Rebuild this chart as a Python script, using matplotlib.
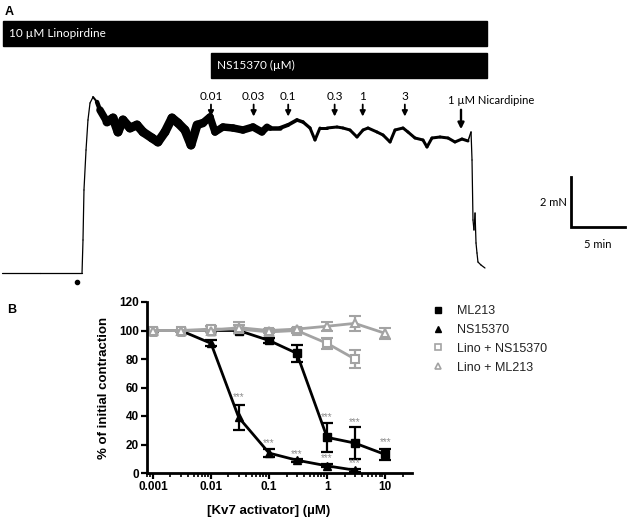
import numpy as np
import matplotlib
matplotlib.use("Agg")
import matplotlib.pyplot as plt
from matplotlib.patches import Rectangle
from matplotlib.lines import Line2D
from matplotlib.collections import LineCollection

# Panel A: force trace (time in min, force in mN, noise half-width in mN)
traceT = [0, 3.52, 7.41, 7.5, 7.59, 7.78, 7.96, 8.15, 8.43, 8.8, 9.07, 9.72, 10.28, 10.74,
          11.2, 11.85, 12.5, 13.06, 13.89, 14.44, 15.09, 15.74, 16.3, 16.94, 17.5, 18.06,
          18.61, 19.26, 19.72, 20.46, 21.39, 22.31, 23.24, 24.07, 24.54, 24.81, 25.74,
          26.48, 27.31, 27.87, 28.52, 28.98, 29.44, 30.09, 31.02, 31.57, 32.22, 32.87,
          33.43, 33.89, 34.72, 35.28, 35.93, 36.39, 37.13, 37.59, 38.24, 38.98, 39.35,
          39.81, 40.56, 41.3, 41.94, 42.59, 43.15, 43.43, 43.52, 43.61, 43.7, 43.8, 43.89,
          43.98, 44.07, 44.35, 44.72]
traceF = [0, 0, 0, 1.32, 3.32, 4.92, 6.12, 6.8, 7.04, 6.84, 6.52, 6.04, 6.2, 5.64,
          6.12, 5.8, 5.92, 5.64, 5.4, 5.24, 5.64, 6.2, 6.0, 5.72, 5.12, 5.92,
          6.0, 6.24, 5.64, 5.84, 5.8, 5.72, 5.84, 5.64, 5.84, 5.8, 5.8,
          5.92, 6.12, 6.04, 5.8, 5.32, 5.8, 5.8, 5.84, 5.8, 5.72, 5.44,
          5.72, 5.8, 5.64, 5.52, 5.24, 5.72, 5.8, 5.64, 5.4, 5.32, 5.04,
          5.4, 5.44, 5.4, 5.24, 5.36, 5.28, 5.64, 4.52, 2.12, 1.72, 2.4, 1.2,
          0.8, 0.44, 0.32, 0.2]
traceN = [0.02, 0.02, 0.02, 0, 0, 0, 0, 0, 0.02, 0.06, 0.12, 0.18, 0.18, 0.18,
          0.18, 0.18, 0.18, 0.18, 0.18, 0.18, 0.18, 0.18, 0.18, 0.18, 0.18, 0.18,
          0.16, 0.15, 0.15, 0.15, 0.15, 0.15, 0.15, 0.15, 0.13, 0.1, 0.08,
          0.08, 0.07, 0.07, 0.06, 0.06, 0.06, 0.06, 0.06, 0.06, 0.06, 0.06,
          0.06, 0.06, 0.06, 0.06, 0.06, 0.06, 0.06, 0.06, 0.06, 0.06, 0.06,
          0.06, 0.06, 0.06, 0.06, 0.06, 0.06, 0, 0, 0, 0, 0, 0,
          0, 0, 0, 0]

doseLabels = ["0.01", "0.03", "0.1", "0.3", "1", "3"]
doseT = [19.35, 23.3, 26.5, 30.8, 33.4, 37.3]
nicT = 42.5

# Panel B: concentration-response
conc = [0.001, 0.003, 0.01, 0.03, 0.1, 0.3, 1, 3, 10]
ml213 = [100, 100, 100, 100, 93, 84, 25, 21, 13]
ml213Err = [0, 0, 1, 2, 1.5, 6, 10, 11, 4]
ns15370 = [100, 100, 91, 39, 14, 9, 5, 2]
ns15370Err = [0, 0, 2, 9, 3, 1, 1, 1]
linoNs = [100, 100, 101, 101, 99, 100, 91, 80]
linoNsErr = [0, 0, 2, 3, 1, 1.5, 4, 6]
linoMl = [100, 100, 100, 102, 100, 101, 103, 105, 98]
linoMlErr = [0, 0, 1, 4, 1, 1, 3, 5, 4]
starX = [0.03, 0.1, 0.3, 1, 3, 1, 3, 10]
starY = [53, 21, 13, 10.5, 7, 39, 36, 22]

W, H = 629, 518
fx = lambda x: x / W
fy = lambda y: 1 - y / H
fontA = ["Lato", "DejaVu Sans"]
fontB = ["Liberation Sans", "DejaVu Sans"]
gray = "#a3a3a3"

fig = plt.figure(figsize=(W / 100, H / 100), dpi=100)

# ---- Panel A ----
axA = fig.add_axes([0, 0, 1, 1])
axA.set_xlim(-2 / 10.8, 627 / 10.8)
axA.set_ylim((273 - 518) / 25, 273 / 25)
axA.axis("off")

fig.text(fx(5), fy(12), "A", fontsize=9, fontweight="bold", family=fontB, va="center")
for x0, y0, x1, y1, label in [(3, 21, 487, 46, "10 \u00b5M Linopirdine"),
                               (211, 53, 487, 78, "NS15370 (\u00b5M)")]:
    fig.patches.append(Rectangle((fx(x0), fy(y1)), fx(x1) - fx(x0), fy(y0) - fy(y1),
                                 transform=fig.transFigure, color="black"))
    fig.text(fx(x0 + 6), (fy(y0) + fy(y1)) / 2, label, color="white", fontsize=8.5,
             family=fontA, va="center")

# trace drawn with a width that follows the noise band
t = np.array(traceT)
f = np.array(traceF)
n = np.array(traceN)
pts = np.column_stack([t, f]).reshape(-1, 1, 2)
segs = np.concatenate([pts[:-1], pts[1:]], axis=1)
widths = np.maximum(0.9, 2 * 25 * 0.72 * (n[:-1] + n[1:]) / 2)
axA.add_collection(LineCollection(segs, linewidths=widths, colors="black",
                                  capstyle="round", joinstyle="round"))
axA.plot([6.94], [-0.36], "o", color="black", ms=3)

for lab, x in zip(doseLabels, doseT):
    axA.annotate("", xy=(x, 6.15), xytext=(x, 6.85),
                 arrowprops=dict(arrowstyle="-|>", color="black", lw=1.3, mutation_scale=8))
    axA.text(x, 6.85, lab, ha="center", va="bottom", fontsize=8.5, family=fontA)
axA.annotate("", xy=(nicT, 5.64), xytext=(nicT, 6.64),
             arrowprops=dict(arrowstyle="-|>", color="black", lw=1.7, mutation_scale=9))
axA.text(41.3, 6.92, "1 \u00b5M Nicardipine", ha="left", va="center", fontsize=8, family=fontA)

# scale bar
axA.plot([52.7, 52.7, 57.7], [3.84, 1.84, 1.84], color="black", lw=2, solid_joinstyle="miter")
axA.text(52.3, 2.8, "2 mN", ha="right", va="center", fontsize=8, family=fontA)
axA.text(55.2, 1.16, "5 min", ha="center", va="center", fontsize=8, family=fontA)

# ---- Panel B ----
fig.text(fx(7), fy(310), "B", fontsize=9, fontweight="bold", family=fontB, va="center")
axB = fig.add_axes([fx(147), fy(473), fx(412) - fx(147), fy(302) - fy(473)])
axB.patch.set_alpha(0)
axB.set_xscale("log")
axB.set_xlim(0.00079, 29)
axB.set_ylim(0, 120)

eb = dict(lw=2, elinewidth=1.6, capsize=4, capthick=1.6)
axB.errorbar(conc, ml213, yerr=ml213Err, color="black", marker="s", ms=6, **eb)
axB.errorbar(conc[:8], ns15370, yerr=ns15370Err, color="black", marker="^", ms=6, **eb)
axB.errorbar(conc[:8], linoNs, yerr=linoNsErr, color=gray, marker="s", ms=6,
             mfc="white", mec=gray, mew=1.5, **eb)
axB.errorbar(conc, linoMl, yerr=linoMlErr, color=gray, marker="^", ms=6,
             mfc="white", mec=gray, mew=1.5, **eb)
for x, y in zip(starX, starY):
    axB.text(x, y, "***", ha="center", va="center", fontsize=7, color="#8c8c8c", family=fontB)

for s in ["top", "right"]:
    axB.spines[s].set_visible(False)
for s in ["left", "bottom"]:
    axB.spines[s].set_linewidth(2)
axB.set_xticks([0.001, 0.01, 0.1, 1, 10], ["0.001", "0.01", "0.1", "1", "10"])
axB.set_yticks(range(0, 121, 20))
axB.tick_params(which="major", width=1.6, length=4, labelsize=8.5, pad=2)
axB.tick_params(which="minor", width=1.2, length=3)
for lab in axB.get_xticklabels() + axB.get_yticklabels():
    lab.set_family(fontB)
    lab.set_fontweight("bold")
axB.set_xlabel("[Kv7 activator] (\u00b5M)", fontsize=9.5, fontweight="bold", family=fontB)
axB.set_ylabel("% of initial contraction", fontsize=9.5, fontweight="bold", family=fontB)
axB.xaxis.set_label_coords(0.46, -0.185)
axB.yaxis.set_label_coords(-0.14, 0.5)

handles = [Line2D([], [], ls="none", marker="s", color="black", ms=5),
           Line2D([], [], ls="none", marker="^", color="black", ms=5),
           Line2D([], [], ls="none", marker="s", mfc="white", mec=gray, mew=1.2, ms=5),
           Line2D([], [], ls="none", marker="^", mfc="white", mec=gray, mew=1.2, ms=5)]
labels = ["ML213", "NS15370", "Lino + NS15370", "Lino + ML213"]
axB.legend(handles, labels, loc="upper left", bbox_to_anchor=(fx(432), fy(305)),
           bbox_transform=fig.transFigure, frameon=False, handlelength=1,
           handletextpad=1.0, labelspacing=0.55, borderpad=0, borderaxespad=0,
           prop=dict(family=fontB, size=9), labelcolor="#222222")

fig.savefig("out.png", dpi=100)
